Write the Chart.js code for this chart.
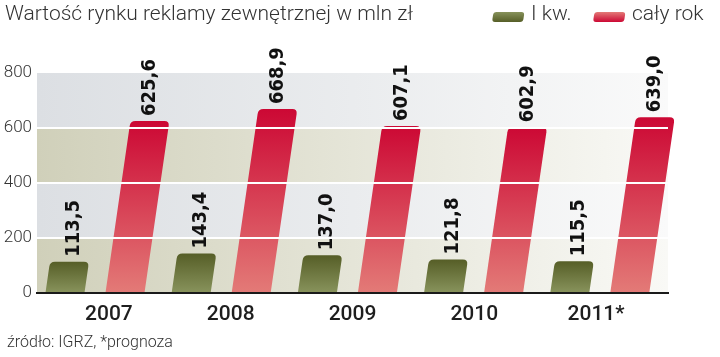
<!DOCTYPE html>
<html>
<head>
<meta charset="utf-8">
<script src="https://cdn.jsdelivr.net/npm/chart.js@4.4.1/dist/chart.umd.min.js"></script>
<style>
html,body{margin:0;padding:0;background:#fff;}
#wrap{width:720px;height:357px;}
</style>
</head>
<body>
<div id="wrap"><canvas id="c" width="720" height="357"></canvas></div>
<script>
// ---- data ----
const titleText = 'Wartość rynku reklamy zewnętrznej w mln zł';
const sourceText = 'źródło: IGRZ, *prognoza';
const categories = ['2007', '2008', '2009', '2010', '2011*'];
const seriesNames = ['I kw.', 'cały rok'];
const q1Values = [113.5, 143.4, 137.0, 121.8, 115.5];
const yearValues = [625.6, 668.9, 607.1, 602.9, 639.0];
const yTicks = [0, 200, 400, 600, 800];

// ---- styles ----
const SKEW = 0.145;
const BAR_SHIFT = -5;
const RADIUS = 5;
const seriesColors = [
  { top: '#565e27', bottom: '#87925b' },
  { top: '#cc0834', bottom: '#e37a77' }
];
const labelOffsets = [4, 0];
const fmt = v => v.toFixed(1).replace('.', ',');

function skewBarPath(ctx, xc, top, base, w, r) {
  const h = base - top;
  const rr = Math.min(r, h / 2, w / 2);
  const bl = xc - w / 2, br = xc + w / 2;
  const dx = SKEW * h;
  const tl = bl + dx, tr = br + dx;
  ctx.beginPath();
  ctx.moveTo(bl, base);
  ctx.lineTo(tl - SKEW * rr, top + rr);
  ctx.quadraticCurveTo(tl, top, tl + rr, top);
  ctx.lineTo(tr - rr, top);
  ctx.quadraticCurveTo(tr, top, tr - SKEW * rr, top + rr);
  ctx.lineTo(br, base);
  ctx.closePath();
}

const bandPlugin = {
  id: 'bands',
  beforeDraw(chart) {
    const { ctx, chartArea: a, scales: { y } } = chart;
    ctx.save();
    for (let i = 0; i < yTicks.length - 1; i++) {
      const y0 = y.getPixelForValue(yTicks[i]);
      const y1 = y.getPixelForValue(yTicks[i + 1]);
      const g = ctx.createLinearGradient(a.left, 0, a.right, 0);
      if (i % 2 === 0) {
        g.addColorStop(0, '#d0d0ba');
        g.addColorStop(0.5, '#e5e5d8');
        g.addColorStop(1, '#f9f9f6');
      } else {
        g.addColorStop(0, '#dcdfe3');
        g.addColorStop(0.5, '#eaecee');
        g.addColorStop(1, '#fafafa');
      }
      ctx.fillStyle = g;
      ctx.fillRect(a.left, y1, a.right - a.left, y0 - y1);
    }
    ctx.restore();
  }
};

const barPlugin = {
  id: 'skewBars',
  afterDatasetsDraw(chart) {
    const { ctx } = chart;
    ctx.save();
    chart.data.datasets.forEach((ds, di) => {
      const meta = chart.getDatasetMeta(di);
      meta.data.forEach(el => {
        const p = el.getProps(['x', 'y', 'base', 'width'], true);
        const g = ctx.createLinearGradient(0, p.y, 0, p.base);
        g.addColorStop(0, seriesColors[di].top);
        g.addColorStop(1, seriesColors[di].bottom);
        ctx.fillStyle = g;
        skewBarPath(ctx, p.x + BAR_SHIFT, p.y, p.base, p.width, RADIUS);
        ctx.fill();
      });
    });
    ctx.restore();
  }
};

const textPlugin = {
  id: 'texts',
  afterDraw(chart) {
    const { ctx, scales: { x }, chartArea: a } = chart;
    ctx.save();
    // value labels
    ctx.fillStyle = '#111';
    ctx.font = "bold 20px 'DejaVu Sans Condensed', 'DejaVu Sans', sans-serif";
    chart.data.datasets.forEach((ds, di) => {
      const meta = chart.getDatasetMeta(di);
      meta.data.forEach((el, i) => {
        const p = el.getProps(['x', 'y', 'base', 'width'], true);
        const xt = p.x + BAR_SHIFT + SKEW * (p.base - p.y) + labelOffsets[di];
        ctx.save();
        ctx.translate(xt, p.y - 5);
        ctx.rotate(-Math.PI / 2);
        ctx.textAlign = 'left';
        ctx.textBaseline = 'middle';
        ctx.fillText(fmt(ds.data[i]), 0, 0);
        ctx.restore();
      });
    });
    // category labels
    ctx.fillStyle = '#1e1e1e';
    ctx.font = "500 21px Roboto, 'Liberation Sans', sans-serif";
    ctx.textAlign = 'center';
    ctx.textBaseline = 'middle';
    const mid = (a.left + a.right) / 2;
    categories.forEach((c, i) => {
      const px = x.getPixelForValue(i);
      ctx.fillText(c, mid + (px - mid) * 0.965, 315);
    });
    // title
    ctx.fillStyle = '#333';
    ctx.font = "300 21px Roboto, 'Liberation Sans', sans-serif";
    ctx.textAlign = 'left';
    ctx.textBaseline = 'alphabetic';
    ctx.fillText(titleText, 5, 20);
    // legend
    const legendX = [492, 593];
    seriesNames.forEach((n, i) => {
      const lx = legendX[i];
      ctx.save();
      ctx.translate(lx, 22);
      ctx.transform(1, 0, -0.15, 1, 0, 0);
      const g = ctx.createLinearGradient(0, -10, 0, 0);
      g.addColorStop(0, seriesColors[i].bottom);
      g.addColorStop(1, seriesColors[i].top);
      ctx.fillStyle = g;
      ctx.beginPath();
      ctx.roundRect(0, -10, 31, 10, 3);
      ctx.fill();
      ctx.restore();
      ctx.fillStyle = '#333';
      ctx.fillText(n, lx + 39, 20);
    });
    // source
    ctx.font = "300 16px Roboto, 'Liberation Sans', sans-serif";
    ctx.fillText(sourceText, 7, 347);
    ctx.restore();
  }
};

new Chart(document.getElementById('c'), {
  type: 'bar',
  data: {
    labels: categories,
    datasets: [
      { label: seriesNames[0], data: q1Values, backgroundColor: 'rgba(0,0,0,0)', borderWidth: 0 },
      { label: seriesNames[1], data: yearValues, backgroundColor: 'rgba(0,0,0,0)', borderWidth: 0 }
    ]
  },
  options: {
    responsive: false,
    devicePixelRatio: 1,
    animation: false,
    categoryPercentage: 0.951,
    barPercentage: 0.65,
    layout: { padding: { left: 0, right: 52, top: 73, bottom: 0 } },
    plugins: { legend: { display: false }, tooltip: { enabled: false }, title: { display: false } },
    scales: {
      x: {
        grid: { display: false },
        border: { display: true, color: '#1a1a1a', width: 2 },
        ticks: { display: false },
        afterFit: s => { s.height = 64; }
      },
      y: {
        min: 0, max: 800,
        afterBuildTicks: s => { s.ticks = yTicks.map(v => ({ value: v })); },
        ticks: { color: '#333', padding: 5, font: { family: 'Roboto', size: 17, weight: '300' } },
        grid: {
          z: 1,
          lineWidth: 2,
          drawTicks: false,
          color: c => (c.tick && c.tick.value > 0 && c.tick.value < 800) ? '#ffffff' : 'rgba(0,0,0,0)'
        },
        border: { display: false },
        afterFit: s => { s.width = 37; }
      }
    }
  },
  plugins: [bandPlugin, barPlugin, textPlugin]
});
</script>
</body>
</html>
